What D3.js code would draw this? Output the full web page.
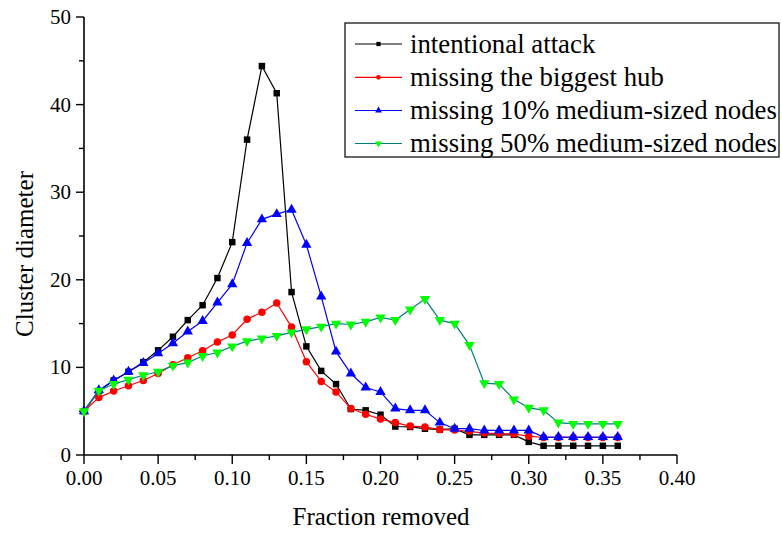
<!DOCTYPE html>
<html>
<head>
<meta charset="utf-8">
<script src="https://cdn.jsdelivr.net/npm/d3@7"></script>
<style>
  html, body { margin: 0; padding: 0; background: #fff; }
  svg { display: block; }
  text { font-family: "Liberation Serif", "Times New Roman", serif; fill: #000; }
</style>
</head>
<body>
<svg id="chart" width="782" height="535"></svg>
<script>
// ---------- data ----------
const fractions = [0.00,0.01,0.02,0.03,0.04,0.05,0.06,0.07,0.08,0.09,0.10,0.11,0.12,0.13,0.14,0.15,0.16,0.17,0.18,0.19,0.20,0.21,0.22,0.23,0.24,0.25,0.26,0.27,0.28,0.29,0.30,0.31,0.32,0.33,0.34,0.35,0.36];
const intentionalAttack = [5.0,7.3,8.5,9.5,10.6,11.95,13.5,15.4,17.1,20.2,24.3,36.0,44.4,41.3,18.6,12.4,9.6,8.1,5.25,5.1,4.6,3.25,3.2,3.0,2.9,3.0,2.3,2.3,2.3,2.3,1.5,1.05,1.05,1.05,1.05,1.05,1.05];
const missingBiggestHub = [5.0,6.55,7.3,7.9,8.5,9.3,10.3,11.1,11.9,12.9,13.7,15.5,16.3,17.35,14.6,10.65,8.4,7.2,5.3,4.65,4.1,3.7,3.3,3.2,2.9,2.85,2.7,2.5,2.45,2.4,2.15,2.0,2.0,2.0,2.0,2.0,2.0];
const missing10Medium = [5.0,7.4,8.5,9.5,10.5,11.6,12.75,14.1,15.3,17.4,19.5,24.2,26.9,27.5,28.0,24.0,18.1,11.8,9.3,7.7,7.2,5.3,5.1,5.1,3.7,3.0,3.0,2.8,2.8,2.8,2.8,2.05,2.05,2.05,2.05,2.05,2.05];
const missing50Medium = [5.0,7.35,8.1,8.6,9.1,9.5,10.2,10.55,11.3,11.7,12.4,13.0,13.3,13.6,14.0,14.35,14.65,15.0,14.9,15.2,15.7,15.4,16.6,17.8,15.4,15.0,12.55,8.2,8.1,6.35,5.4,5.1,3.7,3.55,3.55,3.55,3.55];
const seriesNames = ["intentional attack","missing the biggest hub","missing 10% medium-sized nodes","missing 50% medium-sized nodes"];
const xTickLabels = ["0.00","0.05","0.10","0.15","0.20","0.25","0.30","0.35","0.40"];
const yTickLabels = ["0","10","20","30","40","50"];
const xTitle = "Fraction removed";
const yTitle = "Cluster diameter";

// ---------- layout ----------
const svg = d3.select("#chart");
const x = d3.scaleLinear().domain([0, 0.4]).range([84, 677]);
const y = d3.scaleLinear().domain([0, 50]).range([455, 17]);

const styles = [
  {line: "#000000", fill: "#000000", shape: d3.symbolSquare, size: 42, lsize: 18},
  {line: "#ff0000", fill: "#ff0000", shape: d3.symbolCircle, size: 44, lsize: 18},
  {line: "#0000ff", fill: "#0000ff", shape: d3.symbolTriangle, size: 46, lsize: 20},
  {line: "#008080", fill: "#00ff00", shape: d3.symbolTriangle, size: 46, lsize: 20, flip: true}
];
const allSeries = [intentionalAttack, missingBiggestHub, missing10Medium, missing50Medium];

// ---------- axes ----------
const xMinor = d3.range(0, 17).map(i => i * 0.025);
const yMinor = d3.range(0, 11).map(i => i * 5);

const xAxisG = svg.append("g").attr("transform", "translate(0,455)");
xAxisG.append("line").attr("x1", x(0)).attr("x2", x(0.4)).attr("y1", 0).attr("y2", 0)
  .attr("stroke", "#000").attr("stroke-width", 1.6);
xAxisG.selectAll("line.tick").data(xMinor).enter().append("line")
  .attr("class", "tick")
  .attr("x1", d => x(d)).attr("x2", d => x(d))
  .attr("y1", 0).attr("y2", (d, i) => i % 2 === 0 ? 9 : 5)
  .attr("stroke", "#000").attr("stroke-width", 1.4);
xAxisG.selectAll("text.tl").data(xTickLabels).enter().append("text")
  .attr("class", "tl")
  .attr("x", d => x(+d)).attr("y", 30)
  .attr("text-anchor", "middle")
  .style("font-size", "21px")
  .text(d => d);

const yAxisG = svg.append("g").attr("transform", "translate(84,0)");
yAxisG.append("line").attr("x1", 0).attr("x2", 0).attr("y1", y(0)).attr("y2", y(50))
  .attr("stroke", "#000").attr("stroke-width", 1.6);
yAxisG.selectAll("line.tick").data(yMinor).enter().append("line")
  .attr("class", "tick")
  .attr("y1", d => y(d)).attr("y2", d => y(d))
  .attr("x1", 0).attr("x2", (d, i) => i % 2 === 0 ? -8 : -5)
  .attr("stroke", "#000").attr("stroke-width", 1.4);
yAxisG.selectAll("text.tl").data(yTickLabels).enter().append("text")
  .attr("class", "tl")
  .attr("x", -13).attr("y", d => y(+d) + 7)
  .attr("text-anchor", "end")
  .style("font-size", "21px")
  .text(d => d);

svg.append("text").attr("x", 381).attr("y", 525).attr("text-anchor", "middle")
  .style("font-size", "25px").text(xTitle);
svg.append("text").attr("transform", "translate(33,254) rotate(-90)").attr("text-anchor", "middle")
  .style("font-size", "25px").text(yTitle);

// ---------- series ----------
const line = d3.line().x((d, i) => x(fractions[i])).y(d => y(d));
function symbolPath(st, size) {
  return d3.symbol().type(st.shape).size(size)();
}
allSeries.forEach((vals, si) => {
  const st = styles[si];
  const g = svg.append("g");
  g.append("path").datum(vals).attr("d", line)
    .attr("fill", "none").attr("stroke", st.line).attr("stroke-width", 1.2);
  g.selectAll("path.m").data(vals).enter().append("path")
    .attr("class", "m")
    .attr("d", symbolPath(st, st.size))
    .attr("transform", (d, i) => `translate(${x(fractions[i])},${y(d)})` + (st.flip ? " rotate(180)" : ""))
    .attr("fill", st.fill);
});

// ---------- legend ----------
const lg = svg.append("g");
lg.append("rect").attr("x", 345).attr("y", 23).attr("width", 434).attr("height", 134)
  .attr("fill", "#fff").attr("stroke", "#000").attr("stroke-width", 1.2);
const rowY = [44, 77.3, 110.5, 143.5];
seriesNames.forEach((name, i) => {
  const st = styles[i];
  lg.append("line").attr("x1", 355).attr("x2", 402).attr("y1", rowY[i]).attr("y2", rowY[i])
    .attr("stroke", st.line).attr("stroke-width", 1.2);
  lg.append("path").attr("d", symbolPath(st, st.lsize))
    .attr("transform", `translate(378.5,${rowY[i]})` + (st.flip ? " rotate(180)" : ""))
    .attr("fill", st.fill);
  lg.append("text").attr("x", 410).attr("y", rowY[i] + 8.5)
    .style("font-size", "26.8px").text(name);
});
</script>
</body>
</html>
